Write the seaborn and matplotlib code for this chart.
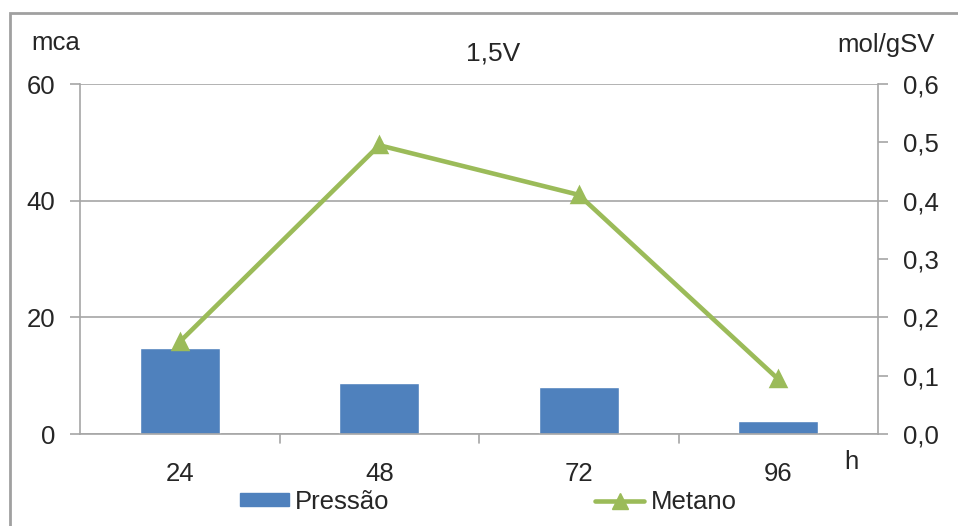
import matplotlib
matplotlib.use("Agg")
import matplotlib.pyplot as plt
from matplotlib.patches import Rectangle, Patch
from matplotlib.lines import Line2D
from matplotlib.ticker import FuncFormatter, MultipleLocator
import seaborn as sns
import pandas as pd

# Data
hours = ["24", "48", "72", "96"]
pressao = [14.7, 8.8, 8.1, 2.2]      # mca
metano = [0.158, 0.495, 0.41, 0.094]  # mol/gSV

df = pd.DataFrame({"h": hours, "Pressão": pressao, "Metano": metano})

sns.set_style("white")
plt.rcParams["font.family"] = ["Liberation Sans", "DejaVu Sans"]

BLUE = "#4F81BD"
GREEN = "#9BBB59"
GRID = "#A6A6A6"
TXT = "#262626"
FS = 18.5

fig = plt.figure(figsize=(9.58, 5.26), dpi=100)
ax = fig.add_axes([80 / 958, 1 - 434 / 526, 798 / 958, 350 / 526])

sns.barplot(data=df, x="h", y="Pressão", order=hours, color=BLUE, width=0.4,
            saturation=1, ax=ax, zorder=2)
ax.set_xlim(-0.5, len(hours) - 0.5)
ax.set_ylim(0, 60)
ax.set_yticks([0, 20, 40, 60])
ax.yaxis.grid(True, color=GRID, lw=1.2, zorder=0)
ax.set_axisbelow(True)
ax.set_xlabel("")
ax.set_ylabel("")

for s in ["top", "right"]:
    ax.spines[s].set_visible(False)
for s in ["left", "bottom"]:
    ax.spines[s].set_color(GRID)
    ax.spines[s].set_linewidth(1.2)

# Category tick marks sit between groups
ax.set_xticks(range(len(hours)))
ax.set_xticklabels(hours)
ax.tick_params(axis="x", length=0, pad=20, labelsize=FS, labelcolor=TXT)
for b in [0.5, 1.5, 2.5]:
    ax.plot([b, b], [0, -0.025], transform=ax.get_xaxis_transform(),
            color=GRID, lw=1.2, clip_on=False)
ax.tick_params(axis="y", length=7, width=1.2, color=GRID, labelsize=FS,
               labelcolor=TXT, pad=11, left=True)

ax2 = ax.twinx()
sns.pointplot(data=df, x="h", y="Metano", order=hours, color=GREEN,
              markers="^", markersize=10, linewidth=3.3, ax=ax2, zorder=3)
ax2.set_xlim(-0.5, len(hours) - 0.5)
ax2.set_ylim(0, 0.6)
ax2.yaxis.set_major_locator(MultipleLocator(0.1))
ax2.yaxis.set_major_formatter(FuncFormatter(lambda v, p: f"{v:.1f}".replace(".", ",")))
ax2.set_xlabel("")
ax2.set_ylabel("")
for s in ["top", "left", "bottom"]:
    ax2.spines[s].set_visible(False)
ax2.spines["right"].set_color(GRID)
ax2.spines["right"].set_linewidth(1.2)
ax2.tick_params(axis="y", length=7, width=1.2, color=GRID, labelsize=FS,
                labelcolor=TXT, pad=11, right=True)

# Titles and axis units
fig.text(493 / 958, 1 - 53 / 526, "1,5V", ha="center", va="center", fontsize=FS + 0.5, color=TXT)
fig.text(56 / 958, 1 - 43 / 526, "mca", ha="center", va="center", fontsize=FS, color=TXT)
fig.text(886 / 958, 1 - 45 / 526, "mol/gSV", ha="center", va="center", fontsize=FS, color=TXT)
fig.text(851 / 958, 1 - 462 / 526, "h", ha="center", va="center", fontsize=FS, color=TXT)

handles = [Patch(facecolor=BLUE, edgecolor=BLUE),
           Line2D([0], [0], color=GREEN, lw=3.3, marker="^", markersize=11)]
fig.legend(handles, ["Pressão", "Metano"], loc="center left",
           bbox_to_anchor=(240 / 958, 1 - 502 / 526), ncol=2, frameon=False,
           borderpad=0, borderaxespad=0,
           fontsize=FS, handlelength=1.9, handleheight=0.4, handletextpad=0.25,
           columnspacing=8.0, labelcolor=TXT)

# Chart frame
fig.patches.append(Rectangle((10 / 958, -0.05), 1.0, 1 - 13 / 526 + 0.05,
                             transform=fig.transFigure, fill=False,
                             edgecolor="#A0A0A0", lw=2))

fig.savefig("out.png", dpi=100, facecolor="white")
